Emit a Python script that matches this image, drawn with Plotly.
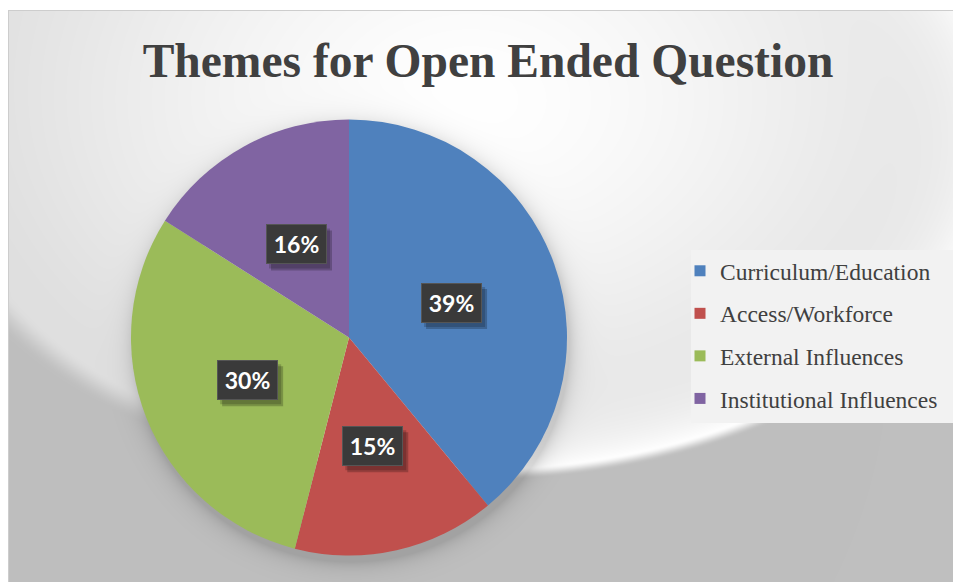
import numpy as np
import zlib, struct, base64, math
import plotly.graph_objects as go

# ---------------- data ----------------
categories = ["Curriculum/Education", "Access/Workforce", "External Influences", "Institutional Influences"]
values = [39, 15, 30, 16]
colors = ["#4F81BD", "#C0504D", "#9BBB59", "#8064A2"]
title_text = "Themes for Open Ended Question"

# ---------------- geometry (page px; page body has an 8px margin) ----------------
PAGE_W, PAGE_H = 961, 582
OFF = 8
FW, FH = PAGE_W - OFF, PAGE_H - OFF
PIE_CX, PIE_CY, PIE_R = 349, 337.5, 218
BOX_W, BOX_H = 61, 40


def px2x(x):
    return (x - OFF) / FW


def py2y(y):
    return 1 - (y - OFF) / FH


def png_uri(arr):
    h, w, _ = arr.shape
    raw = b"".join(b"\x00" + arr[i].tobytes() for i in range(h))
    def chunk(t, d):
        c = struct.pack(">I", len(d)) + t + d
        return c + struct.pack(">I", zlib.crc32(t + d) & 0xffffffff)
    png = b"\x89PNG\r\n\x1a\n" + chunk(b"IHDR", struct.pack(">IIBBBBB", w, h, 8, 2, 0, 0, 0))
    png += chunk(b"IDAT", zlib.compress(raw, 9)) + chunk(b"IEND", b"")
    return "data:image/png;base64," + base64.b64encode(png).decode()


def background():
    yy, xx = np.mgrid[0:FH, 0:FW].astype(float)
    xx += OFF
    yy += OFF
    d = np.sqrt(((xx - 470) / 560) ** 2 + ((yy - 100) / 400) ** 2)
    light = 255 - 40 * np.clip(d, 0, 1.3) ** 1.5
    e = np.sqrt(((xx - 470) / 530) ** 2 + ((yy - 130) / 340) ** 2)
    strength = np.clip((xx - 60) / 380, 0.15, 1.0)
    hl = np.exp(-np.clip(1 - e, 0, None) * 340 / 40.0) * strength
    light = light + (255 - light) * hl
    grey = 191.0
    width = 0.035 + 0.04 * (1 - strength)
    t = np.clip((e - 0.995) / width, 0, 1)
    t = t * t * (3 - 2 * t)
    img = light * (1 - t) + grey * t
    ds = np.sqrt((xx - PIE_CX - 2) ** 2 + (yy - PIE_CY - 6) ** 2) - PIE_R
    sh = np.exp(-np.clip(ds, 0, None) / 9.0) * (ds > -40)
    img = img * (1 - 0.15 * sh)
    img = np.clip(img, 0, 255)
    top = int(round(10.5 - OFF))
    img[:top, :] = 255
    img[top, :] = 205
    img[:, 0] = 205
    img[:top, 0] = 255
    arr = np.repeat(img[:, :, None], 3, axis=2).astype(np.uint8)
    return png_uri(arr)


fig = go.Figure()

fig.add_trace(go.Pie(
    labels=categories,
    values=values,
    marker=dict(colors=colors, line=dict(width=0)),
    sort=False,
    direction="clockwise",
    rotation=0,
    textinfo="none",
    showlegend=False,
    hoverinfo="label+percent",
    domain=dict(x=[px2x(PIE_CX - PIE_R), px2x(PIE_CX + PIE_R)],
                y=[py2y(PIE_CY + PIE_R), py2y(PIE_CY - PIE_R)]),
))

for cat, col in zip(categories, colors):
    fig.add_trace(go.Scatter(
        x=[None], y=[None], mode="markers", name=cat, legendgroup=cat,
        marker=dict(symbol="square", size=11, color=col), showlegend=True,
        hoverinfo="skip",
    ))

# data labels: computed from values at half radius on slice mid-angle
total = sum(values)
annotations = []
shapes = [dict(type="rect", xref="paper", yref="paper", x0=px2x(691), x1=px2x(953),
               y0=py2y(423), y1=py2y(250), fillcolor="#f2f2f2", line=dict(width=0), layer="above")]
cum = 0
for v in values:
    mid = (cum + v / 2) / total
    cum += v
    th = 2 * math.pi * mid
    lx = PIE_CX + 0.5 * PIE_R * math.sin(th)
    ly = PIE_CY - 0.5 * PIE_R * math.cos(th) + 2.5
    txt = f"{round(100 * v / total)}%"
    for k, op in ((0, 0.18), (2, 0.22)):
        shapes.append(dict(type="rect", xref="paper", yref="paper", layer="above",
                           x0=px2x(lx - BOX_W / 2 + 3 + k), x1=px2x(lx + BOX_W / 2 + 3 + k),
                           y0=py2y(ly + BOX_H / 2 + 4 + k), y1=py2y(ly - BOX_H / 2 + 4 + k),
                           fillcolor=f"rgba(0,0,0,{op})", line=dict(width=0)))
    annotations.append(dict(x=px2x(lx), y=py2y(ly), xref="paper", yref="paper", showarrow=False,
                            xanchor="center", yanchor="middle",
                            width=BOX_W - 10, height=BOX_H - 10, borderpad=4, borderwidth=1, text=txt,
                            bgcolor="#3a3a3a", bordercolor="#555555",
                            font=dict(family="Lato", size=23, color="white", weight="bold")))

fig.update_layout(
    width=FW, height=FH,
    margin=dict(l=0, r=0, t=0, b=0),
    paper_bgcolor="white",
    plot_bgcolor="rgba(0,0,0,0)",
    xaxis=dict(visible=False),
    yaxis=dict(visible=False),
    title=dict(text=title_text, x=px2x(488), y=py2y(60), xanchor="center", yanchor="middle",
               font=dict(family="Liberation Serif", size=47.5, color="#404040", weight="bold")),
    legend=dict(x=px2x(680), y=py2y(249), xanchor="left", yanchor="top",
                bgcolor="rgba(0,0,0,0)", font=dict(family="Liberation Serif", size=23.5, color="#404040"),
                tracegroupgap=9, itemwidth=30),
    shapes=shapes,
    annotations=annotations,
    images=[dict(source=background(), xref="paper", yref="paper", x=0, y=1, sizex=1, sizey=1,
                 xanchor="left", yanchor="top", sizing="stretch", layer="below")],
    showlegend=True,
)

fig.write_html("out.html")
